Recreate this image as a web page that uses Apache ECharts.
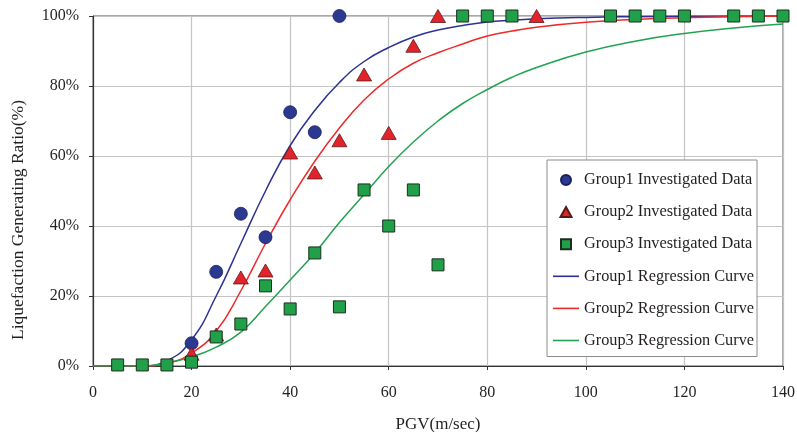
<!DOCTYPE html>
<html>
<head>
<meta charset="utf-8">
<script src="https://cdn.jsdelivr.net/npm/echarts@6/dist/echarts.min.js"></script>
<style>
  html, body { margin: 0; padding: 0; background: #fff; }
  #chart { width: 797px; height: 432px; }
</style>
</head>
<body>
<div id="chart"></div>
<script>
var g1X = [20, 25, 30, 35, 40, 45, 50];
var g1Y = [6.5, 26.9, 43.5, 36.8, 72.5, 66.8, 100];
var g2X = [20, 25, 30, 35, 40, 45, 50, 55, 60, 65, 70, 90];
var g2Y = [3.5, 9, 25.3, 27.3, 61, 55.3, 64.5, 83.3, 66.6, 91.5, 100, 100];
var g3X = [5, 10, 15, 20, 25, 30, 35, 40, 45, 50, 55, 60, 65, 70, 75, 80, 85, 105, 110, 115, 120, 130, 135, 140];
var g3Y = [0.3, 0.3, 0.3, 1.1, 8.3, 12, 22.9, 16.3, 32.3, 16.9, 50.3, 40, 50.3, 28.9, 100, 100, 100, 100, 100, 100, 100, 100, 100, 100];

// regression curves
var curveX = [0, 5, 10, 15, 20, 25, 30, 35, 40, 45, 50, 55, 60, 65, 70, 75, 80, 85, 90, 100, 110, 120, 130, 140];
var curve1 = [0, 0, 0, 1.5, 7.5, 20, 35, 50, 63, 73, 81, 87, 91, 94, 96, 97.3, 98.3, 98.8, 99.2, 99.6, 99.8, 99.9, 100, 100];
var curve2 = [0, 0, 0, 0.8, 3.7, 10, 21.5, 35, 47.5, 58.5, 68, 76, 82, 86.5, 89.5, 92, 94.3, 95.7, 96.8, 98.2, 99, 99.5, 99.8, 100];
var curve3 = [0, 0, 0, 0.9, 2.6, 5.4, 9.7, 17, 24.6, 32.3, 41, 49, 57, 64, 70, 75, 79, 82.5, 85.3, 89.7, 92.8, 95, 96.6, 97.7];

var names = [
  'Group1 Investigated Data',
  'Group2 Investigated Data',
  'Group3 Investigated Data',
  'Group1 Regression Curve',
  'Group2 Regression Curve',
  'Group3 Regression Curve'
];

function zip(xs, ys) {
  return xs.map(function (x, i) { return [x, ys[i]]; });
}

var serif = 'Liberation Serif';
var txt = '#231f20';
var lineIcon = 'path://M0,0 L26,0 L26,1.6 L0,1.6 Z';
var chart = echarts.init(document.getElementById('chart'));

var option = {
  animation: false,
  textStyle: { fontFamily: serif },
  grid: {
    left: 93, right: 14, top: 16, bottom: 66,
    // 不让 v6 自动收缩绘图区
    outerBoundsMode: 'none',
    show: true,
    borderColor: '#555',
    borderWidth: 1
  },
  // y 轴标题，位置比轴中点偏下
  graphic: [{
    type: 'text',
    x: 18,
    y: 220,
    rotation: Math.PI / 2,
    style: {
      text: 'Liquefaction Generating Ratio(%)',
      fontFamily: serif,
      fontSize: 17.5,
      fill: txt,
      align: 'center',
      verticalAlign: 'middle'
    }
  }],
  legend: {
    orient: 'vertical',
    left: 547,
    top: 160,
    padding: [12, 3, 8, 6],
    itemGap: 16.1,
    itemWidth: 26,
    itemHeight: 10,
    backgroundColor: '#fff',
    borderColor: '#8c8c8c',
    borderWidth: 1,
    textStyle: { fontFamily: serif, fontSize: 16.3, color: txt },
    data: [
      { name: names[0], icon: 'circle' },
      { name: names[1], icon: 'path://M5.5,0 L11,10 L0,10 Z' },
      { name: names[2], icon: 'path://M0,0 L10,0 L10,10 L0,10 Z' },
      { name: names[3], icon: lineIcon },
      { name: names[4], icon: lineIcon },
      { name: names[5], icon: lineIcon }
    ]
  },
  xAxis: {
    type: 'value',
    min: 0, max: 140, interval: 20,
    name: 'PGV(m/sec)',
    nameLocation: 'middle',
    nameGap: 50,
    nameTextStyle: { fontFamily: serif, fontSize: 17, color: txt },
    axisLine: { show: true, lineStyle: { color: '#333', width: 1.2 } },
    axisTick: { show: true, inside: false, length: 4, lineStyle: { color: '#333' } },
    axisLabel: { fontFamily: serif, fontSize: 16, color: txt, margin: 19 },
    splitLine: { show: true, lineStyle: { color: '#c4c4c4', width: 1.2 } }
  },
  yAxis: {
    type: 'value',
    min: 0, max: 100, interval: 20,
    axisLine: { show: true, lineStyle: { color: '#333', width: 1.2 } },
    axisTick: { show: true, inside: false, length: 4, lineStyle: { color: '#333' } },
    axisLabel: { fontFamily: serif, fontSize: 16, color: txt, margin: 14, formatter: '{value}%' },
    splitLine: { show: true, lineStyle: { color: '#c4c4c4', width: 1.2 } }
  },
  series: [
    {
      name: names[0],
      type: 'scatter',
      z: 3,
      clip: false,
      symbol: 'circle',
      symbolSize: 13,
      itemStyle: { color: '#2b3990', borderColor: '#1a1f5c', borderWidth: 0.8, opacity: 1 },
      data: zip(g1X, g1Y)
    },
    {
      name: names[1],
      type: 'scatter',
      z: 4,
      clip: false,
      symbol: 'triangle',
      symbolSize: [15, 13],
      itemStyle: { color: '#e3232b', borderColor: '#5a1a1a', borderWidth: 0.8, opacity: 1 },
      data: zip(g2X, g2Y)
    },
    {
      name: names[2],
      type: 'scatter',
      z: 5,
      clip: false,
      symbol: 'rect',
      symbolSize: 12,
      itemStyle: { color: '#21a04a', borderColor: '#1c2e1c', borderWidth: 1, opacity: 1 },
      data: zip(g3X, g3Y)
    },
    {
      name: names[3],
      type: 'line',
      z: 2,
      smooth: true,
      symbol: 'none',
      lineStyle: { color: '#2e3192', width: 1.5 },
      itemStyle: { color: '#2e3192' },
      data: zip(curveX, curve1)
    },
    {
      name: names[4],
      type: 'line',
      z: 2,
      smooth: true,
      symbol: 'none',
      lineStyle: { color: '#ee2a2a', width: 1.5 },
      itemStyle: { color: '#ee2a2a' },
      data: zip(curveX, curve2)
    },
    {
      name: names[5],
      type: 'line',
      z: 2,
      smooth: true,
      symbol: 'none',
      lineStyle: { color: '#22a34f', width: 1.5 },
      itemStyle: { color: '#22a34f' },
      data: zip(curveX, curve3)
    }
  ]
};

option && chart.setOption(option);
</script>
</body>
</html>
